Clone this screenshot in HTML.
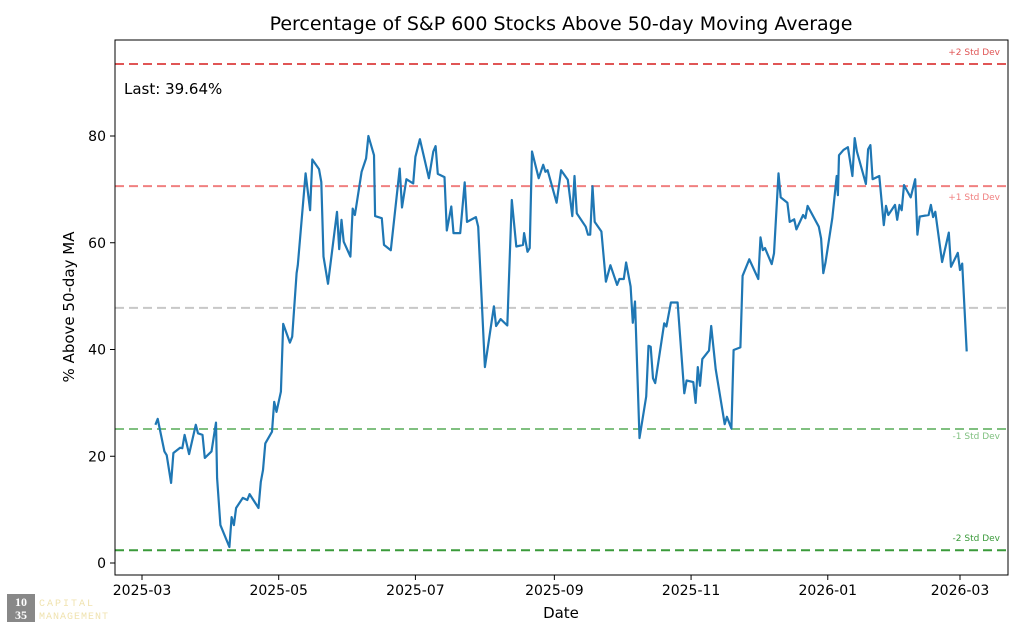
<!DOCTYPE html>
<html><head><meta charset="utf-8"><style>
body{margin:0;background:#fff;font-family:"Liberation Sans","DejaVu Sans",sans-serif}
svg text{font-family:"DejaVu Sans","Liberation Sans",sans-serif}
</style></head><body>
<svg id="chart" width="1033" height="634" xmlns="http://www.w3.org/2000/svg"></svg>
<script>
// days since 2025-03-01
const days=[6,7,10,11,13,14,17,18,19,21,24,25,27,28,31,33,33.5,35,39,40,41,42,45,47,48,52,53,54,55,58,59,60,62,63,66,67,69,69.5,73,75,76,79,80,81,83,87,88,89,90,93,94,95,98,100,101,103.5,104,107,108,111,115,116,118,121,122,124,128,130,131,132,135,136,138,139,142,144,145,149,150,153,157,158,160,163,165,167,170,170.5,172,173,174,177,179,180,181,185,187,190,192,193,194,198,199,200,201,202,205,207,209,212,213,215,216,218,219,220,222,225,226,227,228,229,233,234,236,239,242,243,246,247,248,249,250,253,254,256,260,261,263,264,267,268,271,275,276,277,278,281,282,284,285,288,289,291,292,295,296,297,302,303,304,305,308,310,310.5,311,313,315,317,318,319,323,324,325,326,329,331,332,333,336,337,338,339,340,343,345,346,347,351,352,353,354,357,360,361,364,365,366,368];
const values=[25.9,27.0,20.9,20.2,15.0,20.6,21.6,21.5,24.0,20.4,25.9,24.3,24.0,19.7,20.9,26.3,15.9,7.1,3.0,8.6,7.1,10.3,12.2,11.8,12.9,10.3,15.2,17.4,22.4,24.6,30.2,28.3,32.1,44.8,41.3,42.4,54.3,55.8,73.0,66.1,75.6,73.8,71.4,57.4,52.3,65.8,58.8,64.3,60.2,57.4,66.4,65.2,73.3,75.8,80.0,76.4,65.0,64.6,59.6,58.6,73.9,66.6,71.9,71.1,76.1,79.4,72.1,77.1,78.1,72.9,72.3,62.3,66.8,61.8,61.8,71.3,63.9,64.8,63.0,36.7,48.1,44.4,45.7,44.5,68.0,59.3,59.6,61.8,58.3,59.0,77.1,72.1,74.6,73.3,73.6,67.5,73.6,71.8,65.0,72.5,65.5,63.0,61.5,61.5,70.6,63.9,62.1,52.7,55.8,52.1,53.2,53.2,56.3,51.8,45.0,49.0,23.4,31.2,40.7,40.5,34.6,33.7,44.9,44.3,48.8,48.8,31.8,34.2,33.9,30.0,36.7,33.2,38.2,39.8,44.4,36.3,26.0,27.4,25.2,39.9,40.4,53.8,56.9,53.2,61.0,58.6,59.0,56.0,58.0,73.0,68.5,67.5,63.9,64.4,62.5,65.2,64.6,66.9,63.0,60.8,54.3,56.3,64.6,72.5,68.9,76.4,77.4,77.9,72.5,79.6,77.1,71.0,77.5,78.3,71.9,72.5,63.3,66.9,65.2,67.1,64.3,67.1,66.1,70.8,68.5,71.9,61.5,64.9,65.2,67.1,64.8,65.8,56.4,61.9,55.5,58.1,54.9,56.1,39.64];
const yTicks=[0,20,40,60,80];
const xTickLabels=["2025-03","2025-05","2025-07","2025-09","2025-11","2026-01","2026-03"];
const xTickDays=[0,61,122,184,245,306,365];
const bandNames=["+2 Std Dev","+1 Std Dev","mean","-1 Std Dev","-2 Std Dev"];
const bandValues=[93.5,70.6,47.8,25.1,2.4];
const bandColors=["#e05555","#f08080","#c8c8c8","#80c080","#3a9a3a"];
const bandLabelOffsets=[-9,14,0,10,-9];

const L=115,R=1008,T=40,B=575;
const X=d=>142+d*(818/365);
const Y=v=>563-v*5.3375;
const svg=document.getElementById('chart');
const NS="http://www.w3.org/2000/svg";
function mk(tag,attrs,text){const e=document.createElementNS(NS,tag);for(const k in attrs)e.setAttribute(k,attrs[k]);if(text!==undefined)e.textContent=text;svg.appendChild(e);return e;}

let t=mk('text',{x:561,y:30,'text-anchor':'middle','font-size':19,fill:'#000'},'Percentage of S&P 600 Stocks Above 50-day Moving Average');



bandValues.forEach((v,i)=>{
 const l=mk('line',{x1:L,x2:R,y1:Y(v),y2:Y(v),stroke:bandColors[i],'stroke-width':2,'stroke-dasharray':'9,5'});
 
 
 if(bandNames[i]!=='mean'){
  const tt=mk('text',{x:1000,y:Y(v)+bandLabelOffsets[i],'text-anchor':'end','font-size':9,fill:bandColors[i]},bandNames[i]);
  
  
 }
});

const pts=days.map((d,i)=>X(d).toFixed(1)+','+Y(values[i]).toFixed(1)).join(' ');
const pl=mk('polyline',{points:pts,fill:'none',stroke:'#1f77b4','stroke-width':2.2,'stroke-linejoin':'round'});



const fr=mk('rect',{x:L,y:T,width:R-L,height:B-T,fill:'none',stroke:'#000','stroke-width':1});



yTicks.forEach(v=>{
 mk('line',{x1:L-5,x2:L,y1:Y(v),y2:Y(v),stroke:'#000'});
 const tt=mk('text',{x:L-9,y:Y(v)+5,'text-anchor':'end','font-size':14},String(v));
 
 
});
xTickDays.forEach((d,i)=>{
 mk('line',{x1:X(d),x2:X(d),y1:B,y2:B+5,stroke:'#000'});
 const tt=mk('text',{x:X(d),y:B+20,'text-anchor':'middle','font-size':14},xTickLabels[i]);
 
 
});
t=mk('text',{x:561,y:618,'text-anchor':'middle','font-size':15},'Date');


t=mk('text',{x:74,y:307,'text-anchor':'middle','font-size':15,transform:'rotate(-90 74 307)'},'% Above 50-day MA');


t=mk('text',{x:124,y:94,'font-size':15},'Last: '+values[values.length-1].toFixed(2)+'%');



// logo
const lg=mk('rect',{x:7,y:594,width:28,height:28,fill:'#888'});


mk('text',{x:21,y:606,'text-anchor':'middle','font-size':12,'font-weight':'bold',fill:'#fff',style:'font-family:"Liberation Serif",serif'},'10');
mk('text',{x:21,y:619,'text-anchor':'middle','font-size':12,'font-weight':'bold',fill:'#fff',style:'font-family:"Liberation Serif",serif'},'35');
t=mk('text',{x:39,y:606,'font-size':10,fill:'#f0e3b0','letter-spacing':'2',style:'font-family:"Liberation Mono",monospace'},'CAPITAL');


mk('text',{x:39,y:619,'font-size':10,fill:'#f0e3b0','letter-spacing':'1',style:'font-family:"Liberation Mono",monospace'},'MANAGEMENT');
</script>
</body></html>
